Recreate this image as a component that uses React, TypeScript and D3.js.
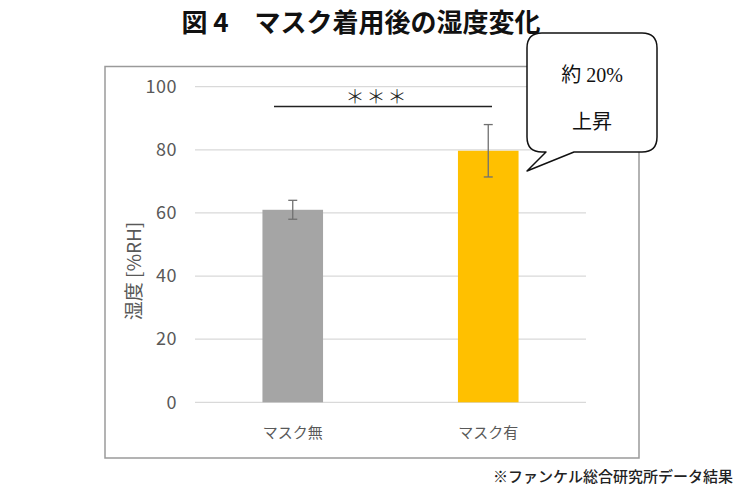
import React from "react";
import * as d3 from "d3";

const categories = ["マスク無", "マスク有"];
const values = [61, 79.7];
const errors = [3, 8.3];
const barColors = ["#a5a5a5", "#ffc000"];
const yTicks = [0, 20, 40, 60, 80, 100];
const titleText = "図 4　マスク着用後の湿度変化";
const yLabel = "湿度 [%RH]";
const calloutLines = ["約 20%", "上昇"];
const sigText = "＊＊＊";
const footnote = "※ファンケル総合研究所データ結果";

export default function App() {
  const W = 750, H = 500;
  const x = d3.scaleBand<string>().domain(categories).range([195, 586]).paddingInner(0.69).paddingOuter(0.345);
  const y = d3.scaleLinear().domain([0, 100]).range([402.3, 86.7]);
  const jp = "'Noto Sans CJK JP', 'Noto Sans', sans-serif";
  const serif = "'Liberation Serif', 'Noto Sans CJK JP', serif";
  const cx = (c: string) => (x(c) as number) + x.bandwidth() / 2;
  const sigY = y(93.7);
  const boxX = 527, boxY = 33, boxW = 130, boxH = 119, r = 15;
  const tip = [527, 171];
  const b1 = 546, b2 = 574;
  const calloutPath = `M ${boxX + r} ${boxY} H ${boxX + boxW - r} Q ${boxX + boxW} ${boxY} ${boxX + boxW} ${boxY + r} V ${boxY + boxH - r} Q ${boxX + boxW} ${boxY + boxH} ${boxX + boxW - r} ${boxY + boxH} H ${b2} L ${tip[0]} ${tip[1]} L ${b1} ${boxY + boxH} H ${boxX + r} Q ${boxX} ${boxY + boxH} ${boxX} ${boxY + boxH - r} V ${boxY + r} Q ${boxX} ${boxY} ${boxX + r} ${boxY} Z`;
  return (
    <svg width={W} height={H} style={{ position: "absolute", left: 0, top: 0, background: "#fff" }}>
      <rect x={0} y={0} width={W} height={H} fill="#fff" />
      <text x={361} y={32} textAnchor="middle" fontFamily={jp} fontWeight={700} fontSize={26} fill="#111">{titleText}</text>
      <rect x={105} y={66.5} width={534} height={391.5} fill="none" stroke="#9a9a9a" strokeWidth={1.5} />
      {yTicks.map(t => (
        <g key={t}>
          <line x1={195} x2={586} y1={y(t)} y2={y(t)} stroke="#d9d9d9" strokeWidth={1.3} />
          <text x={177} y={y(t)} dy="0.35em" textAnchor="end" fontFamily={jp} fontSize={18} letterSpacing={0.5} fill="#595959">{t}</text>
        </g>
      ))}
      <text transform={`translate(134, 271) rotate(-90)`} textAnchor="middle" dy="0.35em" fontFamily={jp} fontSize={19} fill="#595959">{yLabel}</text>
      {categories.map((c, i) => (
        <g key={c}>
          <rect x={x(c)} y={y(values[i])} width={x.bandwidth()} height={y(0) - y(values[i])} fill={barColors[i]} />
          <line x1={cx(c)} x2={cx(c)} y1={y(values[i] + errors[i])} y2={y(values[i] - errors[i])} stroke="#707070" strokeWidth={1.3} />
          <line x1={cx(c) - 4.5} x2={cx(c) + 4.5} y1={y(values[i] + errors[i])} y2={y(values[i] + errors[i])} stroke="#707070" strokeWidth={1.3} />
          <line x1={cx(c) - 4.5} x2={cx(c) + 4.5} y1={y(values[i] - errors[i])} y2={y(values[i] - errors[i])} stroke="#707070" strokeWidth={1.3} />
          <text x={cx(c)} y={433} dy="0.35em" textAnchor="middle" fontFamily={jp} fontSize={15} fill="#595959">{c}</text>
        </g>
      ))}
      <line x1={274} x2={492} y1={sigY} y2={sigY} stroke="#222" strokeWidth={1.5} />
      <text x={377} y={97} dy="0.35em" textAnchor="middle" fontFamily={jp} fontSize={19} fontWeight={300} letterSpacing={2} fill="#222">{sigText}</text>
      <path d={calloutPath} fill="#fff" stroke="#111" strokeWidth={1.5} strokeLinejoin="round" />
      <text x={592} y={75} dy="0.35em" textAnchor="middle" fontFamily={serif} fontSize={20} fill="#111">{calloutLines[0]}</text>
      <text x={592} y={122} dy="0.35em" textAnchor="middle" fontFamily={serif} fontSize={20} fill="#111">{calloutLines[1]}</text>
      <text x={733} y={477} dy="0.35em" textAnchor="end" fontFamily={jp} fontSize={15} fontWeight={500} fill="#222">{footnote}</text>
    </svg>
  );
}
